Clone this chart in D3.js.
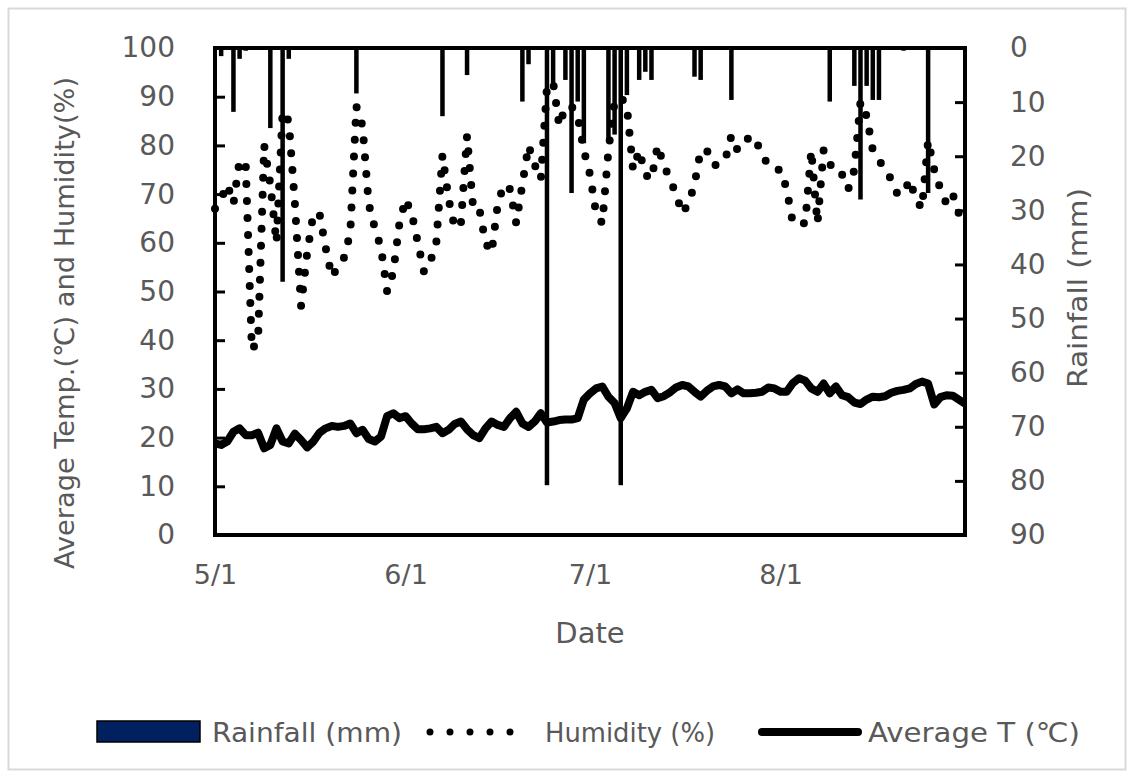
<!DOCTYPE html>
<html>
<head>
<meta charset="utf-8">
<script src="https://cdn.jsdelivr.net/npm/d3@7"></script>
<style>
  body { margin: 0; background: #fff; }
  text { font-family: "DejaVu Sans", sans-serif; fill: #595959; }
</style>
</head>
<body>
<div class="chart-container"></div>
<script>
// daily humidity (%), May 1 -> Aug 31
const humidity = [
  67, 69, 72, 68, 77, 76, 38, 40, 80, 72,
  60, 87, 85, 68, 47, 58, 66, 66, 59, 53,
  55, 57, 62, 88, 84, 68, 63, 59, 50, 54,
  64, 69, 66, 60, 54, 56, 60, 78, 69, 63,
  64, 82, 67, 67, 60, 58, 68, 72, 71, 64,
  72, 80, 76, 73, 92, 93, 84, 88, 88, 86,
  79, 74, 66, 64, 79, 89, 90, 88, 75, 79,
  74, 73, 80, 76, 73, 70, 66, 68, 72, 79,
  79, 76, 76, 77, 82, 79, 80, 82, 81, 78,
  76, 75, 75, 71, 64, 64, 64, 79, 64, 79,
  76, 76, 74, 71, 75, 89, 86, 79, 77, 75,
  73, 70, 70, 73, 69, 67, 81, 75, 71, 68,
  70, 66, 66
];

// daily average temperature (C)
const avgTemp = [
  18.8, 18.5, 19.2, 21.2, 21.9, 20.5, 20.5, 21.0, 17.8, 18.5,
  21.9, 19.2, 18.8, 20.8, 19.5, 18.0, 19.2, 21.0, 21.9, 22.4,
  22.2, 22.4, 22.9, 20.9, 21.6, 19.7, 19.2, 20.2, 24.4, 25.0,
  24.0, 24.4, 22.9, 21.7, 21.7, 21.9, 22.2, 20.9, 21.6, 22.8,
  23.3, 21.7, 20.5, 19.9, 21.9, 23.3, 22.6, 22.2, 24.0, 25.3,
  22.9, 22.2, 23.3, 25.0, 23.1, 23.3, 23.6, 23.7, 23.7, 24.0,
  27.8, 29.1, 30.1, 30.5, 28.4, 27.1, 24.0, 26.0, 29.4, 28.7,
  29.4, 29.8, 28.1, 28.5, 29.3, 30.3, 30.8, 30.5, 29.4, 28.4,
  29.6, 30.5, 30.8, 30.5, 29.1, 29.9, 29.1, 29.1, 29.2, 29.4,
  30.3, 30.1, 29.4, 29.4, 31.2, 32.2, 31.7, 30.1, 29.4, 31.1,
  29.1, 30.5, 28.7, 28.3, 27.2, 26.9, 27.8, 28.4, 28.3, 28.5,
  29.2, 29.6, 29.8, 30.1, 31.0, 31.5, 31.1, 26.8, 28.3, 28.7,
  28.6, 27.8, 27.0
];

// rainy days only: day index (0 = May 1) and rainfall (mm)
const rainDay = [1, 3, 4, 5, 9, 11, 12, 23, 37, 41, 50, 51, 54, 55, 57, 58, 59, 60,
  64, 65, 66, 67, 69, 70, 71, 78, 79, 84, 100, 104, 105, 106, 107, 108, 112, 116];
const rainMm = [1.5, 11.8, 2, 0.5, 14.8, 43.2, 2, 8.4, 12.6, 5, 9.9, 3, 80.8, 6.5, 5.9, 26.8, 9.9, 17.6,
  17, 16, 80.8, 8.7, 5.9, 4.4, 5.9, 5.3, 5.9, 9.6, 9.9, 7, 28, 7, 9.6, 9.6, 0.5, 26.8];

const dateTicks = ['5/1', '6/1', '7/1', '8/1'];
const leftTicks = [0, 10, 20, 30, 40, 50, 60, 70, 80, 90, 100];
const rightTicks = [0, 10, 20, 30, 40, 50, 60, 70, 80, 90];

const start = new Date(2020, 4, 1);
const days = d3.timeDay.range(start, new Date(2020, 8, 1));
const tickDates = dateTicks.map(s => {
  const [m, d] = s.split('/').map(Number);
  return new Date(2020, m - 1, d);
});

const W = 1134, H = 778;
const plot = { left: 215, right: 965, top: 48, bottom: 535 };

const svg = d3.select('.chart-container')
  .append('svg')
  .attr('width', W)
  .attr('height', H);

// chart border
svg.append('rect')
  .attr('x', 8.5).attr('y', 8.5)
  .attr('width', W - 17).attr('height', H - 17)
  .attr('fill', 'none')
  .attr('stroke', '#d9d9d9')
  .attr('stroke-width', 2);

// scales
const x = d3.scaleTime()
  .domain([days[0], days[days.length - 1]])
  .range([plot.left, plot.right]);
const y = d3.scaleLinear().domain([0, 100]).range([plot.bottom, plot.top]);
const yRain = d3.scaleLinear().domain([0, 90]).range([plot.top, plot.bottom]);

// one line generator for both daily series
const dailyLine = d3.line()
  .x((d, i) => x(days[i]))
  .y(d => y(d));

// temperature line
svg.append('path')
  .datum(avgTemp)
  .attr('d', dailyLine)
  .attr('fill', 'none')
  .attr('stroke', '#000')
  .attr('stroke-width', 8)
  .attr('stroke-linejoin', 'round');

// humidity as round-dot line
svg.append('path')
  .datum(humidity)
  .attr('d', dailyLine)
  .attr('fill', 'none')
  .attr('stroke', '#000')
  .attr('stroke-width', 8)
  .attr('stroke-linecap', 'round')
  .attr('stroke-dasharray', '0 17');

// rainfall bars hanging from the top (reversed axis)
const barW = 4.5;
svg.selectAll('.bar')
  .data(rainMm)
  .join('rect')
  .attr('class', 'bar')
  .attr('x', (d, i) => x(days[rainDay[i]]) - barW / 2)
  .attr('y', yRain(0))
  .attr('width', barW)
  .attr('height', d => yRain(d) - yRain(0))
  .attr('fill', '#000');

// frame
svg.append('rect')
  .attr('x', plot.left).attr('y', plot.top)
  .attr('width', plot.right - plot.left)
  .attr('height', plot.bottom - plot.top)
  .attr('fill', 'none')
  .attr('stroke', '#000')
  .attr('stroke-width', 4);

// left axis (ticks inside)
const yAxis = d3.axisLeft(y)
  .tickValues(leftTicks)
  .tickSizeInner(-10)
  .tickSizeOuter(0)
  .tickPadding(40);
const gy = svg.append('g')
  .attr('transform', `translate(${plot.left},0)`)
  .call(yAxis);
gy.select('.domain').remove();
gy.selectAll('line').attr('stroke', '#000').attr('stroke-width', 3);
gy.selectAll('text').style('font-size', '28px').attr('fill', '#595959');

// right axis (ticks inside)
const yAxisR = d3.axisRight(yRain)
  .tickValues(rightTicks)
  .tickSizeInner(-10)
  .tickSizeOuter(0)
  .tickPadding(45);
const gyr = svg.append('g')
  .attr('transform', `translate(${plot.right},0)`)
  .call(yAxisR);
gyr.select('.domain').remove();
gyr.selectAll('line').attr('stroke', '#000').attr('stroke-width', 3);
gyr.selectAll('text').style('font-size', '28px').attr('fill', '#595959');

// x axis labels
const xAxis = d3.axisBottom(x)
  .tickValues(tickDates)
  .tickFormat((d, i) => dateTicks[i])
  .tickSize(0)
  .tickPadding(30);
const gx = svg.append('g')
  .attr('transform', `translate(0,${plot.bottom})`)
  .call(xAxis);
gx.select('.domain').remove();
gx.selectAll('text').style('font-size', '27px').attr('fill', '#595959');

// axis titles
svg.append('text')
  .attr('transform', 'translate(74,323) rotate(-90)')
  .attr('text-anchor', 'middle')
  .attr('textLength', 492)
  .attr('lengthAdjust', 'spacingAndGlyphs')
  .style('font-size', '27px')
  .text('Average Temp.(℃) and Humidity(%)');

svg.append('text')
  .attr('transform', 'translate(1087,288) rotate(-90)')
  .attr('text-anchor', 'middle')
  .attr('textLength', 200)
  .attr('lengthAdjust', 'spacingAndGlyphs')
  .style('font-size', '27px')
  .text('Rainfall (mm)');

svg.append('text')
  .attr('x', 590).attr('y', 643)
  .attr('text-anchor', 'middle')
  .style('font-size', '29px')
  .text('Date');

// legend
const ly = 732;
const legend = svg.append('g').attr('class', 'legend');
legend.append('rect')
  .attr('x', 97).attr('y', 721)
  .attr('width', 103).attr('height', 21)
  .attr('fill', '#002060')
  .attr('stroke', '#000')
  .attr('stroke-width', 1.5);
legend.append('text')
  .attr('x', 212).attr('y', ly + 10)
  .attr('textLength', 190)
  .attr('lengthAdjust', 'spacingAndGlyphs')
  .style('font-size', '27px')
  .text('Rainfall (mm)');
legend.append('line')
  .attr('x1', 430).attr('x2', 530)
  .attr('y1', ly).attr('y2', ly)
  .attr('stroke', '#000')
  .attr('stroke-width', 7)
  .attr('stroke-linecap', 'round')
  .attr('stroke-dasharray', '0 20');
legend.append('text')
  .attr('x', 545).attr('y', ly + 10)
  .attr('textLength', 170)
  .attr('lengthAdjust', 'spacingAndGlyphs')
  .style('font-size', '27px')
  .text('Humidity (%)');
legend.append('line')
  .attr('x1', 762).attr('x2', 858)
  .attr('y1', ly).attr('y2', ly)
  .attr('stroke', '#000')
  .attr('stroke-width', 8)
  .attr('stroke-linecap', 'round');
legend.append('text')
  .attr('x', 868).attr('y', ly + 10)
  .attr('textLength', 212)
  .attr('lengthAdjust', 'spacingAndGlyphs')
  .style('font-size', '27px')
  .text('Average T (℃)');
</script>
</body>
</html>
